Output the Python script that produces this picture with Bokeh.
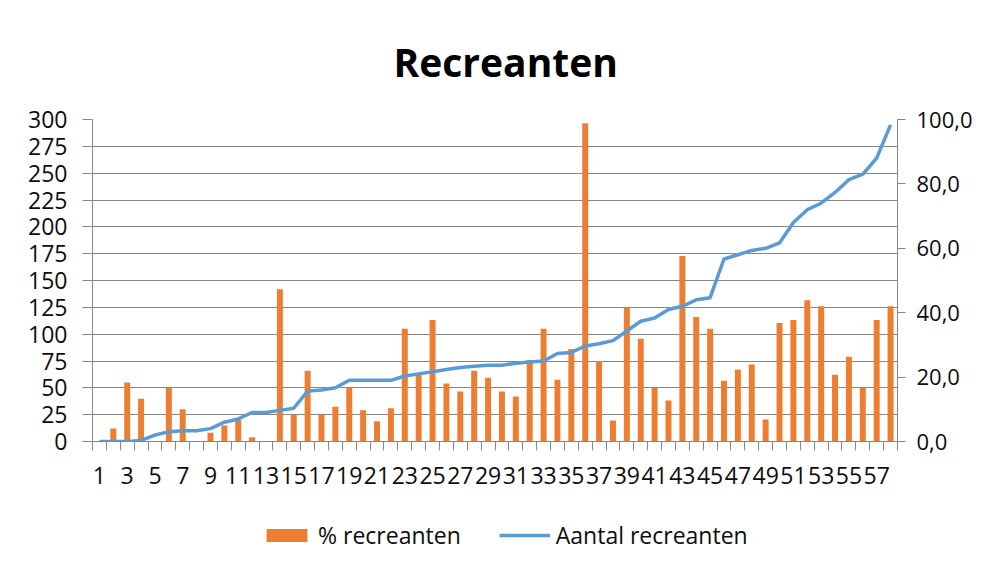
from bokeh.plotting import figure
from bokeh.layouts import column
from bokeh.models import (Range1d, LinearAxis, FixedTicker, CustomJSTickFormatter,
                          Legend, LegendItem, ColumnDataSource)
from bokeh.embed import file_html
from bokeh.resources import INLINE

# ---- data ----
categories = list(range(1, 59))
pct_recreanten = [0, 4.0, 18.3, 13.3, 0, 16.7, 10.0, 0, 2.7, 5.0,
                  6.7, 1.3, 0, 47.3, 8.3, 22.0, 8.3, 10.8, 16.7, 9.7,
                  6.3, 10.3, 35.0, 21.3, 37.7, 18.0, 15.5, 22.0, 19.8, 15.5,
                  14.0, 25.3, 35.0, 19.2, 28.7, 98.8, 25.0, 6.5, 41.5, 31.9,
                  16.7, 12.7, 57.6, 38.7, 35.0, 18.9, 22.3, 23.9, 6.8, 36.8,
                  37.7, 43.9, 42.0, 20.7, 26.3, 16.7, 37.7, 42.0]
aantal_recreanten = [0, 0, 0, 1, 6, 9, 10, 10, 12, 18,
                     21, 27, 27, 29, 31, 47, 48, 50, 57, 57,
                     57, 57, 61, 63, 65, 67, 69, 70, 71, 71,
                     73, 74, 75, 82, 83, 89, 91, 94, 103, 112,
                     115, 123, 126, 132, 134, 170, 174, 178, 180, 185,
                     204, 216, 222, 232, 244, 249, 264, 295]
x_tick_labels = list(range(1, 58, 2))
left_ticks = list(range(0, 301, 25))
right_ticks = [0, 20, 40, 60, 80, 100]
series_names = ["% recreanten", "Aantal recreanten"]

FONT = "Open Sans"
GRID = "#868686"
TXT = "#0d0d0d"
ORANGE = "#ED7D31"
BLUE = "#5B9BD5"

src = ColumnDataSource(dict(x=categories, pct=pct_recreanten, n=aantal_recreanten))

p = figure(width=975, height=510, output_backend="svg", toolbar_location=None,
           x_range=Range1d(0.5, 58.5), y_range=Range1d(0, 300),
           min_border_left=92, min_border_right=75, min_border_top=118,
           min_border_bottom=69, outline_line_color=None)
p.extra_y_ranges = {"pct": Range1d(0, 100)}

bars = p.vbar(x="x", top="pct", width=0.43, source=src, y_range_name="pct",
              fill_color=ORANGE, line_color=None)
line = p.line(x="x", y="n", source=src, line_color=BLUE, line_width=3.5)

# title
p.title.text = "Recreanten"
p.title.text_font = FONT
p.title.text_font_size = "39px"
p.title.text_font_style = "bold"
p.title.text_color = "#000000"
p.title.align = "left"
p.title.offset = 301
p.title.standoff = 64

# x axis
xa = p.xaxis[0]
xa.ticker = FixedTicker(ticks=x_tick_labels,
                        minor_ticks=[c - 0.5 for c in categories] + [categories[-1] + 0.5])
xa.major_tick_out = 0
xa.major_tick_in = 0
xa.minor_tick_out = 9
xa.minor_tick_in = 0
xa.minor_tick_line_color = GRID
xa.axis_line_color = GRID
xa.major_label_text_font = FONT
xa.major_label_text_font_size = "23px"
xa.major_label_text_color = TXT
xa.major_label_standoff = 16
p.xgrid.visible = False

# left axis
ya = p.yaxis[0]
ya.ticker = FixedTicker(ticks=left_ticks)
ya.major_tick_out = 10
ya.major_tick_in = 0
ya.minor_tick_out = 0
ya.minor_tick_in = 0
ya.major_tick_line_color = GRID
ya.axis_line_color = GRID
ya.major_label_text_font = FONT
ya.major_label_text_font_size = "23px"
ya.major_label_text_color = TXT
ya.major_label_standoff = 15
p.ygrid.grid_line_color = GRID
p.ygrid.grid_line_width = 1

# right axis
ra = LinearAxis(y_range_name="pct", ticker=FixedTicker(ticks=right_ticks),
                formatter=CustomJSTickFormatter(code="return tick.toFixed(1).replace('.', ',');"))
ra.major_tick_out = 8
ra.major_tick_in = 0
ra.minor_tick_out = 0
ra.minor_tick_in = 0
ra.major_tick_line_color = GRID
ra.axis_line_color = GRID
ra.major_label_text_font = FONT
ra.major_label_text_font_size = "22px"
ra.major_label_text_color = TXT
ra.major_label_standoff = 11
p.add_layout(ra, "right")

# legend strip below the chart (series kept far out of view, only their legend shows)
lg = figure(width=975, height=42, output_backend="svg", toolbar_location=None,
            title=None, x_range=Range1d(0.5, 58.5), y_range=Range1d(1000, 1001),
            x_axis_type=None, y_axis_type=None, outline_line_color=None,
            min_border_left=0, min_border_right=0, min_border_top=0,
            min_border_bottom=0)
lg.xgrid.visible = False
lg.ygrid.visible = False
lbar = lg.vbar(x="x", top="pct", width=0.43, source=src,
               fill_color=ORANGE, line_color=None)
lline = lg.line(x="x", y="n", source=src, line_color=BLUE, line_width=3.5)
legend = Legend(items=[LegendItem(label=series_names[0], renderers=[lbar]),
                       LegendItem(label=series_names[1], renderers=[lline])],
                orientation="horizontal", location=(169, 1),
                glyph_width=51, glyph_height=16, label_standoff=6, spacing=38,
                border_line_color=None, background_fill_alpha=0,
                label_text_font=FONT, label_text_font_size="23px",
                label_text_color=TXT, margin=0, padding=4)
lg.add_layout(legend, "center")

layout = column(p, lg, spacing=0)
open("out.html", "w").write(file_html(layout, INLINE))
